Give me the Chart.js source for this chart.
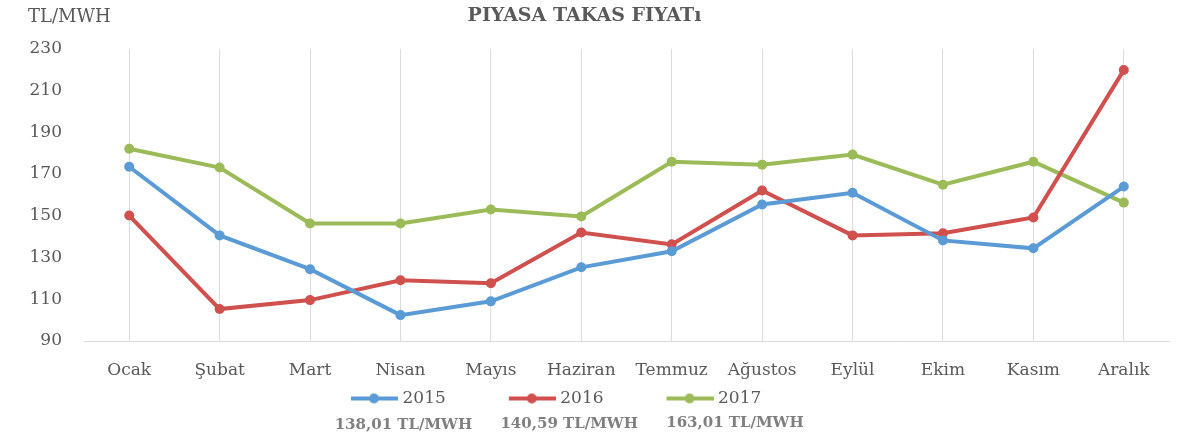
<!DOCTYPE html>
<html>
<head>
<meta charset="utf-8">
<script src="https://cdn.jsdelivr.net/npm/chart.js@4.4.1/dist/chart.umd.min.js"></script>
<style>
  html, body { margin: 0; padding: 0; background: #fff; }
  #kutu { width: 1195px; height: 441px; }
</style>
</head>
<body>
<div id="kutu"><canvas id="grafikPtf"></canvas></div>
<script>
// aylar ve seriler
const aylar = ['Ocak', 'Şubat', 'Mart', 'Nisan', 'Mayıs', 'Haziran', 'Temmuz', 'Ağustos', 'Eylül', 'Ekim', 'Kasım', 'Aralık'];
const ptf2015 = [173.5, 140.6, 124.4, 102.4, 109.0, 125.3, 133.0, 155.4, 161.0, 138.2, 134.4, 164.0];
const ptf2016 = [150.1, 105.3, 109.6, 119.1, 117.7, 142.0, 136.3, 162.1, 140.6, 141.6, 149.2, 219.8];
const ptf2017 = [182.1, 173.1, 146.3, 146.3, 153.0, 149.7, 175.9, 174.5, 179.3, 164.9, 175.9, 156.3];
const yillar = ['2015', '2016', '2017'];
const ortalamalar = ['138,01 TL/MWH', '140,59 TL/MWH', '163,01 TL/MWH'];
const eksenDegerleri = [90, 110, 130, 150, 170, 190, 210, 230];

const renkler = ['#5b9bd5', '#cf504c', '#9bbb59'];
const yazi = '"DejaVu Serif", serif';

// legend isareti: cizgi + nokta, resmin sag tarafinda
function isaretYap(renk) {
  const c = document.createElement('canvas');
  c.width = 104; c.height = 14;
  const x = c.getContext('2d');
  x.strokeStyle = renk; x.lineWidth = 4;
  x.beginPath(); x.moveTo(57, 7); x.lineTo(104, 7); x.stroke();
  x.fillStyle = renk;
  x.beginPath(); x.arc(80, 7, 5, 0, Math.PI * 2); x.fill();
  return c;
}

const ekYazilar = {
  id: 'ekYazilar',
  afterLayout(chart) {
    // legend biraz sola
    chart.legend.left = 288;
  },
  afterDraw(chart) {
    const ctx = chart.ctx;
    ctx.save();
    ctx.fillStyle = '#595959';
    ctx.font = '18px ' + yazi;
    ctx.textBaseline = 'middle';
    ctx.textAlign = 'left';
    ctx.fillText('TL/MWH', chart.chartArea.left - 56, 17);
    ctx.font = 'bold 15px ' + yazi;
    ctx.fillStyle = '#7f7f7f';
    ctx.textAlign = 'center';
    chart.legend.legendHitBoxes.forEach((k, i) => {
      const orta = k.left + 51 + (k.width - 51) / 2 + 6 + i * 8;
      ctx.fillText(ortalamalar[i], orta, k.top + k.height + 18 - i);
    });
    ctx.restore();
  }
};

const seriler = [ptf2015, ptf2016, ptf2017];

new Chart(document.getElementById('grafikPtf'), {
  type: 'line',
  data: {
    labels: aylar,
    datasets: seriler.map((s, i) => ({
      label: yillar[i],
      data: s,
      borderColor: renkler[i],
      backgroundColor: renkler[i],
      borderWidth: 4,
      pointRadius: 5,
      pointStyle: 'circle',
      pointBackgroundColor: renkler[i],
      pointBorderWidth: 0,
      tension: 0
    }))
  },
  options: {
    responsive: true,
    maintainAspectRatio: false,
    animation: false,
    layout: { padding: { left: 0, right: 26, top: 0, bottom: 24 } },
    plugins: {
      title: {
        display: true,
        text: 'PIYASA TAKAS FIYATı',
        color: '#595959',
        font: { family: yazi, size: 19, weight: 'bold' },
        padding: { top: 5, bottom: 21 }
      },
      legend: {
        position: 'bottom',
        align: 'start',
        labels: {
          usePointStyle: true,
          pointStyleWidth: 96,
          padding: 10,
          color: '#595959',
          font: { family: yazi, size: 17 },
          generateLabels: (chart) => chart.data.datasets.map((d, i) => ({
            text: d.label,
            pointStyle: isaretYap(renkler[i]),
            fillStyle: renkler[i],
            strokeStyle: renkler[i],
            lineWidth: 0,
            fontColor: '#595959',
            datasetIndex: i
          }))
        }
      },
      tooltip: { enabled: false }
    },
    scales: {
      x: {
        offset: true,
        afterFit: (s) => { s.height = 39; },
        grid: { display: true, color: '#dcdcdc', offset: false, drawTicks: false },
        border: { display: true, color: '#d9d9d9' },
        ticks: { color: '#595959', padding: 19, font: { family: yazi, size: 17 } }
      },
      y: {
        min: 90,
        max: 230,
        afterFit: (s) => { s.width = 84; },
        afterBuildTicks: (s) => { s.ticks = eksenDegerleri.map(v => ({ value: v })); },
        grid: { display: false },
        border: { display: false },
        ticks: { color: '#595959', padding: 14, font: { family: yazi, size: 17 } }
      }
    }
  },
  plugins: [ekYazilar]
});
</script>
</body>
</html>
